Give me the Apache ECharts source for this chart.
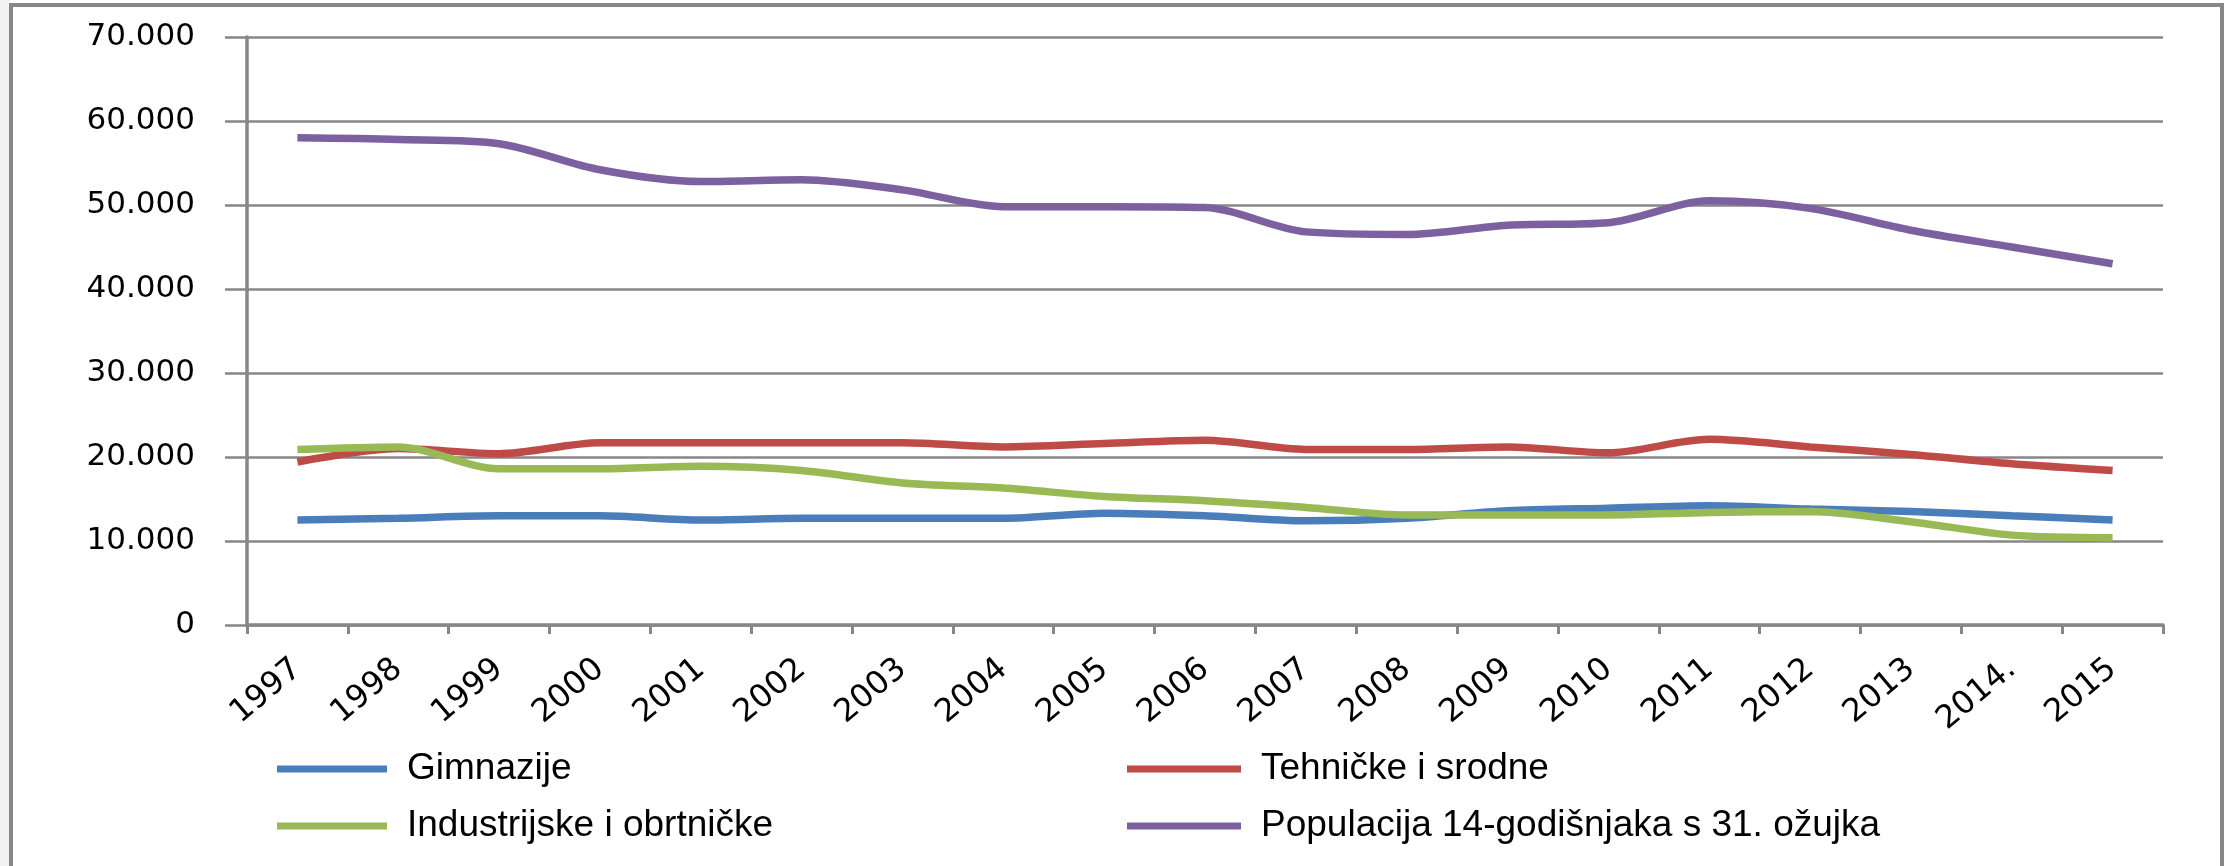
<!DOCTYPE html>
<html>
<head>
<meta charset="utf-8">
<script src="https://cdn.jsdelivr.net/npm/echarts@6/dist/echarts.min.js"></script>
<style>
html,body{margin:0;padding:0;background:#fff;}
#c{width:2229px;height:866px;}
</style>
</head>
<body>
<div id="c"></div>
<script>
const years = ['1997','1998','1999','2000','2001','2002','2003','2004','2005','2006','2007','2008','2009','2010','2011','2012','2013','2014.','2015'];
const gimnazije = [12500,12700,13000,13000,12500,12700,12700,12700,13300,13000,12400,12700,13600,13900,14200,13800,13500,13000,12500];
const tehnicke = [19400,21000,20400,21700,21700,21700,21700,21200,21600,22000,20900,20900,21200,20500,22100,21200,20300,19200,18400];
const industrijske = [20900,21200,18600,18600,18900,18400,16900,16300,15300,14800,14000,13100,13100,13100,13400,13500,12300,10700,10400];
const populacija = [58000,57800,57300,54200,52800,53000,51800,49800,49800,49700,46800,46500,47600,47900,50500,49600,47000,45000,43000];
const seriesNames = ['Gimnazije','Tehničke i srodne','Industrijske i obrtničke','Populacija 14-godišnjaka s 31. ožujka'];
const seriesColors = ['#4A7EBB','#BE4B48','#98B954','#7D60A0'];
const seriesData = [gimnazije, tehnicke, industrijske, populacija];

const chart = echarts.init(document.getElementById('c'));
const axisGray = '#878787';
const legendText = {color:'#000', fontFamily:'Liberation Sans, Arial, sans-serif', fontSize:37, lineHeight:40, padding:[0,0,0,15]};
chart.setOption({
  animation:false,
  backgroundColor:'#fff',
  graphic:[
    {type:'rect', shape:{x:0, y:0, width:10, height:866}, style:{fill:'#f2f2f2'}, silent:true, z:-1},
    {type:'rect', shape:{x:11, y:5, width:2211, height:920}, style:{fill:'none', stroke:axisGray, lineWidth:4}, silent:true}
  ],
  grid:{left:247, right:66, top:37, bottom:241, containLabel:false},
  legend:[
    {orient:'vertical', left:277, top:749, padding:0, itemGap:17, itemWidth:110, itemHeight:7, icon:'rect',
     data:[seriesNames[0], seriesNames[2]], textStyle:legendText},
    {orient:'vertical', left:1127, top:749, padding:0, itemGap:17, itemWidth:114, itemHeight:7, icon:'rect',
     data:[seriesNames[1], seriesNames[3]], textStyle:legendText}
  ],
  xAxis:{
    type:'category', data:years, boundaryGap:true,
    axisLine:{lineStyle:{color:axisGray, width:3.5}},
    axisTick:{show:true, length:9, lineStyle:{color:axisGray, width:3}, alignWithLabel:false},
    axisLabel:{rotate:40, margin:40, interval:0, color:'#000', fontFamily:'DejaVu Sans, Verdana, sans-serif', fontSize:32},
    splitLine:{show:false}
  },
  yAxis:{
    type:'value', min:0, max:70000, interval:10000,
    axisLine:{show:true, lineStyle:{color:axisGray, width:3.5}},
    axisTick:{show:true, length:22, lineStyle:{color:axisGray, width:2.5}},
    axisLabel:{margin:52, color:'#000', fontFamily:'DejaVu Sans, Verdana, sans-serif', fontSize:31,
      formatter:function(v){return v===0?'0':String(v).replace(/\B(?=(\d{3})+(?!\d))/g,'.');}},
    splitLine:{show:true, lineStyle:{color:axisGray, width:2.5}}
  },
  series: seriesData.map((d,i)=>({
    name:seriesNames[i], type:'line', data:d, smooth:0.3, showSymbol:false, symbol:'none',
    lineStyle:{color:seriesColors[i], width:7.5}, itemStyle:{color:seriesColors[i]}, z:2+i
  }))
});
</script>
</body>
</html>
